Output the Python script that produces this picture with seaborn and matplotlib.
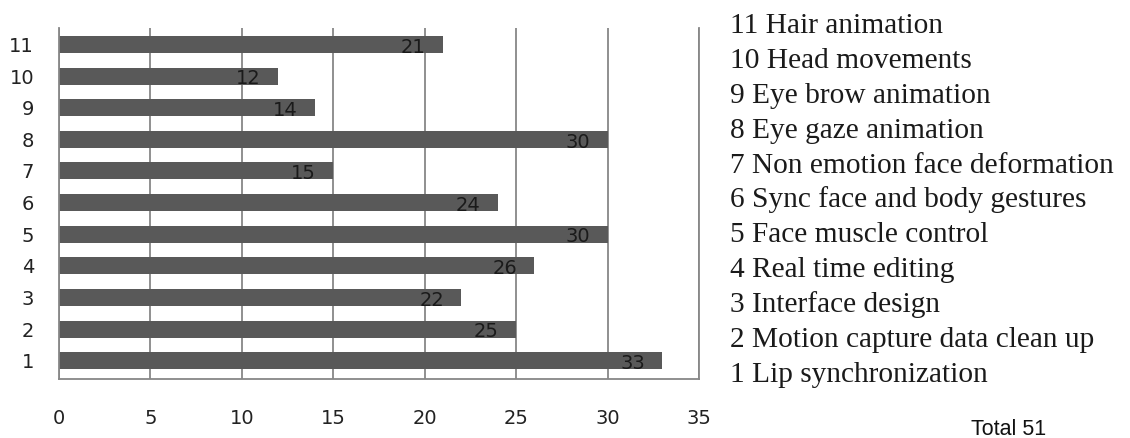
import matplotlib
matplotlib.use("Agg")
import matplotlib.pyplot as plt
import seaborn as sns
import pandas as pd

# Feature numbers (top to bottom), their counts and descriptions
feature_ids = ["11", "10", "9", "8", "7", "6", "5", "4", "3", "2", "1"]
counts = [21, 12, 14, 30, 15, 24, 30, 26, 22, 25, 33]
descriptions = [
    "Hair animation",
    "Head movements",
    "Eye brow animation",
    "Eye gaze animation",
    "Non emotion face deformation",
    "Sync face and body gestures",
    "Face muscle control",
    "Real time editing",
    "Interface design",
    "Motion capture data clean up",
    "Lip synchronization",
]
x_ticks = [0, 5, 10, 15, 20, 25, 30, 35]
total_label = "Total 51"

df = pd.DataFrame({"feature": feature_ids, "count": counts})

sns.set_theme(style="white")
plt.rcParams["font.family"] = ["DejaVu Sans"]

W, H = 1130, 438
fig = plt.figure(figsize=(W / 100, H / 100), dpi=100)
fig.patch.set_facecolor("white")

# axes rectangle in pixel units
left_px, right_px, top_px, bottom_px = 59, 699, 28, 379
ax = fig.add_axes([left_px / W, 1 - bottom_px / H,
                   (right_px - left_px) / W, (bottom_px - top_px) / H])

grid_color = "#878787"
ax.set_axisbelow(True)
ax.xaxis.grid(True, color=grid_color, linewidth=1.3)
ax.yaxis.grid(False)

sns.barplot(data=df, x="count", y="feature", order=feature_ids,
            orient="h", color="#595959", saturation=1, width=0.54,
            edgecolor="none", ax=ax)

ax.set_xlim(0, 35)
ax.set_ylim(10.58, -0.52)
ax.set_xticks(x_ticks)
ax.set_xlabel("")
ax.set_ylabel("")

for side in ("left", "bottom", "right"):
    ax.spines[side].set_visible(True)
    ax.spines[side].set_color(grid_color)
    ax.spines[side].set_linewidth(1.3)
ax.spines["top"].set_visible(False)

ax.tick_params(axis="both", length=0, labelsize=14, labelcolor="#222222")
ax.tick_params(axis="x", pad=21.5)
ax.tick_params(axis="y", pad=18)

# value labels just inside the end of each bar
for i, v in enumerate(counts):
    ax.annotate(str(v), xy=(v, i), xytext=(-12.5, -2),
                textcoords="offset points", ha="right", va="center",
                fontsize=14, color="#1a1a1a")

# description list on the right
text_x = 730 / W
first_base, step = 33, 34.9
for k, (fid, desc) in enumerate(zip(feature_ids, descriptions)):
    y = 1 - (first_base + k * step) / H
    fig.text(text_x, y, f"{fid} {desc}", family="Liberation Serif",
             fontsize=21.2, color="#1a1a1a", ha="left", va="baseline")

fig.text(971 / W, 1 - 435 / H, total_label, family="Liberation Sans",
         fontsize=15.5, color="#111111", ha="left", va="baseline")

fig.savefig("out.png", dpi=100, facecolor="white")
